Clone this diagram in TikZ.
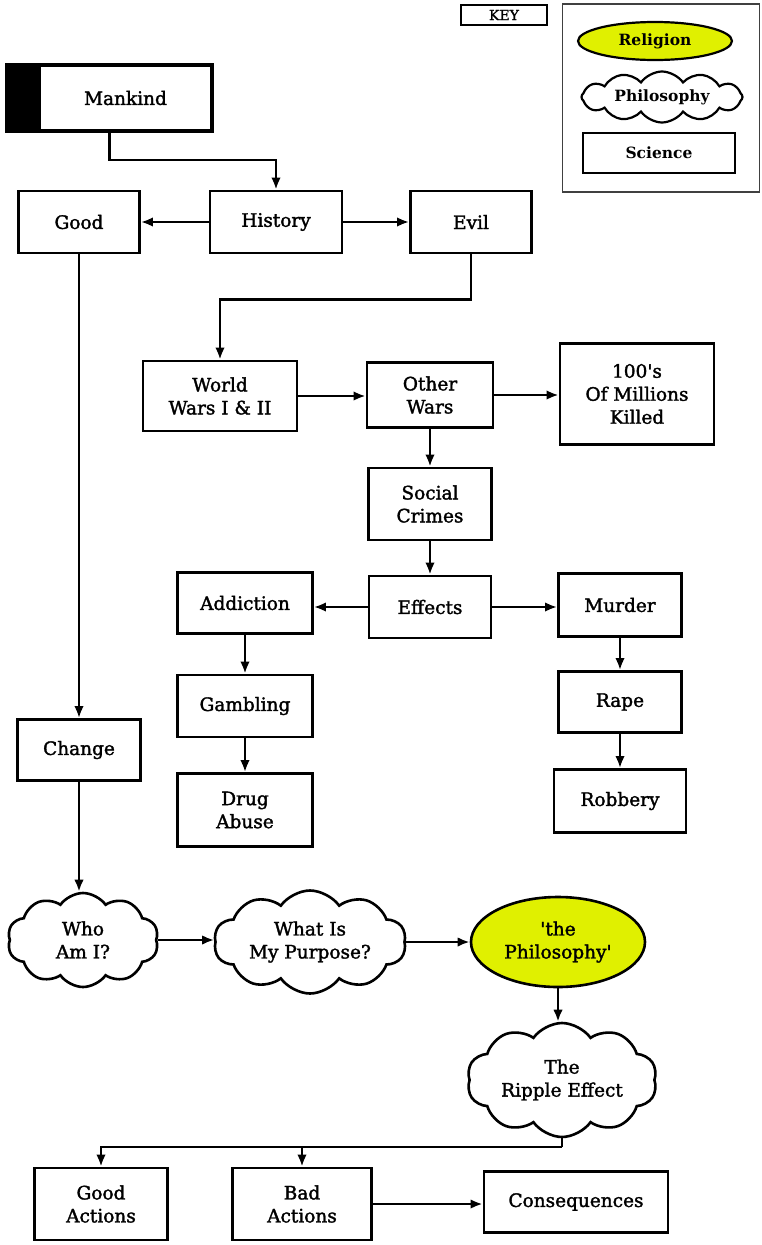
\documentclass[tikz,border=0pt]{standalone}
\usepackage{fontspec}
\setmainfont{DejaVu Serif}
\newfontfamily\diagfont{DejaVu Serif}[FakeBold=1.7]
\usetikzlibrary{shapes.geometric,shapes.symbols,arrows.meta,calc}
\definecolor{lime}{RGB}{224,240,0}
\tikzset{
  box/.style={draw, line width=2.8pt, fill=white, align=center, inner sep=0pt,
    font=\diagfont\fontsize{18.5}{23}\selectfont},
  cloudbox/.style={draw, line width=2.6pt, fill=white, align=center, inner sep=0pt,
    cloud, cloud puffs=10, cloud puff arc=110, cloud ignores aspect,
    font=\diagfont\fontsize{18.5}{23}\selectfont},
  ellbox/.style={draw, line width=2.6pt, fill=lime, align=center, inner sep=0pt,
    ellipse, font=\diagfont\fontsize{18.5}{23}\selectfont},
  arr/.style={line width=2.4pt, -{Latex[length=12pt,width=9.5pt]}},
  plain/.style={line width=2.4pt},
  keyfont/.style={font=\bfseries\fontsize{15.5}{18}\selectfont},
}
\begin{document}
\begin{tikzpicture}[x=1pt,y=-1pt]
\useasboundingbox (0,0) rectangle (762,1245);
% key
\node[draw, line width=1.4pt, minimum width=86, minimum height=20, inner sep=0pt,
  font=\diagfont\fontsize{14}{15}\selectfont] (keylabel) at (504,15) {KEY};
\node[draw=black!75, line width=1.4pt, minimum width=197, minimum height=188, inner sep=0pt] (keyframe) at (661,98) {};
\node[ellbox, line width=2.2pt, minimum width=154, minimum height=38, keyfont] (kreligion) at (655,41) {Religion};
\node[cloudbox, line width=2.2pt, minimum width=161, minimum height=51, cloud puffs=12, keyfont] (kphilo) at (662,97) {Philosophy};
\node[box, line width=2.4pt, minimum width=152, minimum height=40, keyfont] (kscience) at (659,153) {Science};
% Mankind
\node[fill=black, minimum width=209, minimum height=70, inner sep=0pt] (mkback) at (109.5,98) {};
\node[box, draw=none, minimum width=169, minimum height=62] (mankind) at (125.5,98) {Mankind};
% top row
\node[box, minimum width=121, minimum height=62] (good) at (79,222) {Good};
\node[box, minimum width=132, minimum height=62] (history) at (276,222) {History};
\node[box, minimum width=121, minimum height=62] (evil) at (471,222) {Evil};
% wars
\node[box, minimum width=154, minimum height=70] (ww) at (220,396) {World\\Wars I \& II};
\node[box, minimum width=126, minimum height=65] (other) at (430,395) {Other\\Wars};
\node[box, minimum width=154, minimum height=101] (killed) at (637,394) {100\textquotesingle s\\Of Millions\\Killed};
\node[box, minimum width=123, minimum height=72] (social) at (430,504) {Social\\Crimes};
% effects
\node[box, minimum width=122, minimum height=62] (effects) at (430,607) {Effects};
\node[box, minimum width=135, minimum height=61] (addiction) at (245,603) {Addiction};
\node[box, minimum width=123, minimum height=63] (murder) at (620,605) {Murder};
\node[box, minimum width=135, minimum height=62] (gambling) at (245,706) {Gambling};
\node[box, minimum width=135, minimum height=73] (drug) at (245,810) {Drug\\Abuse};
\node[box, minimum width=123, minimum height=61] (rape) at (620,702) {Rape};
\node[box, minimum width=132, minimum height=63] (robbery) at (620,801) {Robbery};
% change
\node[box, minimum width=123, minimum height=61] (change) at (79,750) {Change};
% clouds
\node[cloudbox, minimum width=151, minimum height=94] (who) at (83,940) {Who\\Am I?};
\node[cloudbox, minimum width=192, minimum height=103] (what) at (310,942) {What Is\\My Purpose?};
\node[ellbox, minimum width=174, minimum height=90] (philo) at (558,942) {\textquotesingle the\\Philosophy\textquotesingle};
\node[cloudbox, minimum width=190, minimum height=114] (ripple) at (562,1080) {The\\Ripple Effect};
% bottom
\node[box, minimum width=133, minimum height=72] (goodact) at (101,1204) {Good\\Actions};
\node[box, minimum width=139, minimum height=72] (badact) at (302,1204) {Bad\\Actions};
\node[box, minimum width=184, minimum height=61] (conseq) at (576,1202) {Consequences};
\coordinate (rjoin) at (559,1147);
% connectors
\draw[arr] (mkback.south) -- ++(0,27) -| (history.north);
\draw[arr] (history.west) -- (good.east);
\draw[arr] (history.east) -- (evil.west);
\draw[arr] (evil.south) -- ++(0,45) -| (ww.north);
\draw[arr] (ww.east) -- (ww.east -| other.west);
\draw[arr] (other.east) -- (other.east -| killed.west);
\draw[arr] (other.south) -- (social.north);
\draw[arr] (social.south) -- (effects.north);
\draw[arr] (effects.west) -- (effects.west -| addiction.east);
\draw[arr] (effects.east) -- (effects.east -| murder.west);
\draw[arr] (addiction.south) -- (gambling.north);
\draw[arr] (gambling.south) -- (gambling.south |- drug.north);
\draw[arr] (murder.south) -- (rape.north);
\draw[arr] (rape.south) -- (rape.south |- robbery.north);
\draw[arr] (good.south) -- (change.north);
\draw[arr] (change.south) -- (change.south |- who.north);
\draw[arr] (who.east) -- (who.east -| what.west);
\draw[arr] (what.east) -- (what.east -| philo.west);
\draw[arr] (philo.south) -- (philo.south |- ripple.north);
\draw[plain] (ripple.south) -- (ripple.south |- rjoin);
\draw[arr] (ripple.south |- rjoin) -| (goodact.north);
\draw[arr] (rjoin -| badact.north) -- (badact.north);
\draw[arr] (badact.east) -- (badact.east -| conseq.west);
\end{tikzpicture}
\end{document}
